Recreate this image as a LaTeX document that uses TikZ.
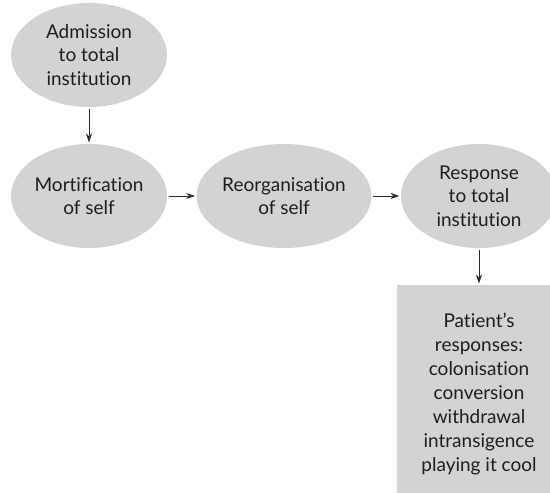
\documentclass[tikz,border=0pt]{standalone}
\usepackage{fontspec}
\setmainfont{Lato}[Ligatures=NoCommon]
\usetikzlibrary{shapes.geometric,arrows.meta}
\definecolor{fillg}{RGB}{211,211,212}
\definecolor{lineg}{RGB}{45,45,45}
\definecolor{textg}{RGB}{30,30,30}
\begin{document}
\begin{tikzpicture}[x=1pt,y=-1pt,
  ell/.style={ellipse, fill=fillg, minimum width=156pt, minimum height=104pt,
    inner sep=0pt, outer sep=1.5pt, align=center, text=textg,
    font=\fontsize{19}{23.5}\selectfont},
  resbox/.style={rectangle, fill=fillg, minimum width=164pt, minimum height=218pt,
    inner sep=0pt, outer sep=1.5pt, align=center, text=textg,
    font=\fontsize{19}{24}\selectfont},
  conn/.style={draw=lineg, line width=0.8pt, -{Stealth[length=9pt,width=6pt]}}]
\clip (0,0) rectangle (550,493);
\node[ell] (adm) at (89,55) {Admission\\to total\\institution};
\node[ell] (mort) at (89,196) {Mortification\\of self};
\node[ell] (reorg) at (284,196) {Reorganisation\\of self};
\node[ell] (resp) at (479,196) {Response\\to total\\institution};
\node[resbox] (pat) at (479,394) {Patient’s\\responses:\\colonisation\\conversion\\withdrawal\\intransigence\\playing it cool};
\draw[conn] (adm) -- (mort);
\draw[conn] (mort) -- (reorg);
\draw[conn] (reorg) -- (resp);
\draw[conn] (resp) -- (pat);
\end{tikzpicture}
\end{document}
